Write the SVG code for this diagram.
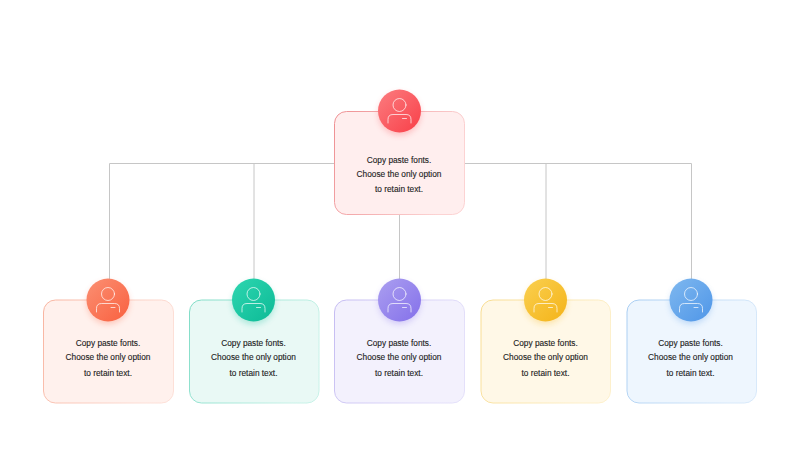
<svg xmlns="http://www.w3.org/2000/svg" width="800" height="450" viewBox="0 0 800 450">
<defs>
<linearGradient id="sr" x1="0" y1="0" x2="1" y2="0.3"><stop offset="0" stop-color="#ee8f92"/><stop offset="1" stop-color="#fcd3d3"/></linearGradient>
<linearGradient id="so" x1="0" y1="0" x2="1" y2="0.3"><stop offset="0" stop-color="#f8b4a0"/><stop offset="1" stop-color="#fde0d8"/></linearGradient>
<linearGradient id="sg" x1="0" y1="0" x2="1" y2="0.3"><stop offset="0" stop-color="#7fdcc6"/><stop offset="1" stop-color="#c8f2e8"/></linearGradient>
<linearGradient id="sp" x1="0" y1="0" x2="1" y2="0.3"><stop offset="0" stop-color="#c5bcf2"/><stop offset="1" stop-color="#e4e0fa"/></linearGradient>
<linearGradient id="sy" x1="0" y1="0" x2="1" y2="0.3"><stop offset="0" stop-color="#f8dc90"/><stop offset="1" stop-color="#fdf0cc"/></linearGradient>
<linearGradient id="sb" x1="0" y1="0" x2="1" y2="0.3"><stop offset="0" stop-color="#a8cdf2"/><stop offset="1" stop-color="#d8e9fa"/></linearGradient>
<linearGradient id="cr" x1="0" y1="0" x2="1" y2="1"><stop offset="0" stop-color="#fb7d80"/><stop offset="1" stop-color="#f93f48"/></linearGradient>
<linearGradient id="co" x1="0" y1="0" x2="1" y2="1"><stop offset="0" stop-color="#fb9073"/><stop offset="1" stop-color="#f9603f"/></linearGradient>
<linearGradient id="cg" x1="0" y1="0" x2="1" y2="1"><stop offset="0" stop-color="#2ed6b0"/><stop offset="1" stop-color="#0cba96"/></linearGradient>
<linearGradient id="cp" x1="0" y1="0" x2="1" y2="1"><stop offset="0" stop-color="#ab9ff0"/><stop offset="1" stop-color="#8470ea"/></linearGradient>
<linearGradient id="cy" x1="0" y1="0" x2="1" y2="1"><stop offset="0" stop-color="#fad050"/><stop offset="1" stop-color="#f4b318"/></linearGradient>
<linearGradient id="cb" x1="0" y1="0" x2="1" y2="1"><stop offset="0" stop-color="#7fb8ef"/><stop offset="1" stop-color="#4f96e8"/></linearGradient>
<filter id="sh" x="-40%" y="-40%" width="180%" height="190%"><feGaussianBlur stdDeviation="3"/></filter>
<g id="person" fill="none" stroke="#fff" stroke-opacity=".7" stroke-width="1" stroke-linecap="round">
<circle cx="0" cy="-6" r="6.5"/>
<path d="M-11.500 12V8.500Q-11.500 3.500-6.500 3.500H6.500Q11.500 3.500 11.500 8.500V12"/>
<path d="M3 7.500H7"/>
</g>
</defs>
<style>
text{font-family:"Liberation Sans",Arial,sans-serif;font-size:8.3px;fill:#222;text-anchor:middle;stroke:#222;stroke-width:.12px}
.box{stroke-width:1}
.halo{filter:url(#sh);opacity:.3}
</style>
<rect width="800" height="450" fill="#fff"/>
<g id="connectors" fill="none" stroke="#c6c6c6" stroke-width="1">
<path d="M109.500 300V163.500H691.500V300"/>
<path d="M254 163.500V300"/>
<path d="M399.500 163.500V300"/>
<path d="M546 163.500V300"/>
</g>
<g id="node-top">
<rect class="box" x="334.500" y="111.500" width="130" height="103" rx="12" fill="#ffeeee" stroke="url(#sr)"/>
<circle class="halo" cx="399.500" cy="114" r="21" fill="#f9434b"/>
<circle cx="399.500" cy="111" r="21.500" fill="url(#cr)"/>
<use href="#person" x="399.500" y="111"/>
<text x="399" y="163">Copy paste fonts.</text><text x="399" y="177">Choose the only option</text><text x="399" y="192">to retain text.</text>
</g>
<g id="node-1">
<rect class="box" x="43.500" y="300" width="130" height="103" rx="12" fill="#fff1ed" stroke="url(#so)"/>
<circle class="halo" cx="108" cy="303" r="21" fill="#f9603f"/>
<circle cx="108" cy="300" r="21.500" fill="url(#co)"/>
<use href="#person" x="108" y="300"/>
<text x="108" y="346">Copy paste fonts.</text><text x="108" y="360">Choose the only option</text><text x="108" y="376">to retain text.</text>
</g>
<g id="node-2">
<rect class="box" x="189.500" y="300" width="129.500" height="103" rx="12" fill="#e9f9f5" stroke="url(#sg)"/>
<circle class="halo" cx="253.500" cy="303" r="21" fill="#0cba96"/>
<circle cx="253.500" cy="300" r="21.500" fill="url(#cg)"/>
<use href="#person" x="253.500" y="300"/>
<text x="253.500" y="346">Copy paste fonts.</text><text x="253.500" y="360">Choose the only option</text><text x="253.500" y="376">to retain text.</text>
</g>
<g id="node-3">
<rect class="box" x="334.500" y="300" width="130" height="103" rx="12" fill="#f3f1fd" stroke="url(#sp)"/>
<circle class="halo" cx="399.500" cy="303" r="21" fill="#8470ea"/>
<circle cx="399.500" cy="300" r="21.500" fill="url(#cp)"/>
<use href="#person" x="399.500" y="300"/>
<text x="399" y="346">Copy paste fonts.</text><text x="399" y="360">Choose the only option</text><text x="399" y="376">to retain text.</text>
</g>
<g id="node-4">
<rect class="box" x="481" y="300" width="129.500" height="103" rx="12" fill="#fff8e7" stroke="url(#sy)"/>
<circle class="halo" cx="545.500" cy="303" r="21" fill="#f4b318"/>
<circle cx="545.500" cy="300" r="21.500" fill="url(#cy)"/>
<use href="#person" x="545.500" y="300"/>
<text x="545.500" y="346">Copy paste fonts.</text><text x="545.500" y="360">Choose the only option</text><text x="545.500" y="376">to retain text.</text>
</g>
<g id="node-5">
<rect class="box" x="627" y="300" width="129.500" height="103" rx="12" fill="#eef6fe" stroke="url(#sb)"/>
<circle class="halo" cx="691" cy="303" r="21" fill="#4f96e8"/>
<circle cx="691" cy="300" r="21.500" fill="url(#cb)"/>
<use href="#person" x="691" y="300"/>
<text x="690.500" y="346">Copy paste fonts.</text><text x="690.500" y="360">Choose the only option</text><text x="690.500" y="376">to retain text.</text>
</g>
</svg>
